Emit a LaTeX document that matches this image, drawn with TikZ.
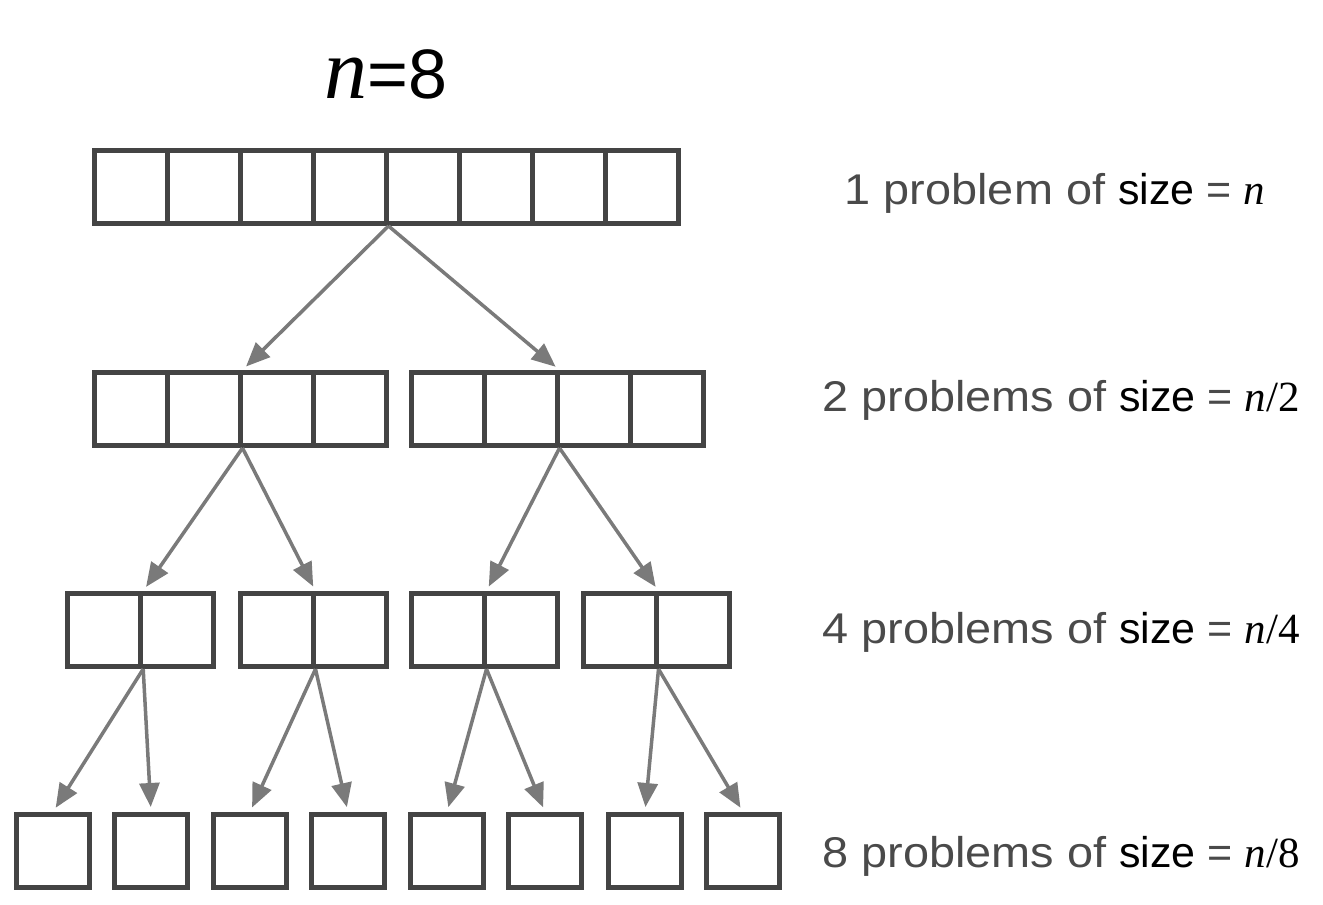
\documentclass[tikz,border=0pt]{standalone}
\usepackage{fontspec}
\setmainfont{Liberation Sans}
\newfontfamily\widesans[FakeStretch=1.09]{Liberation Sans}
\newfontfamily\seriffont{Liberation Serif}
\usetikzlibrary{arrows.meta}

\definecolor{ccbox}{RGB}{68,68,68}
\definecolor{ccarrow}{RGB}{122,122,122}
\definecolor{cctext}{RGB}{74,74,74}

\tikzset{
  cell/.style={draw=ccbox, line width=5pt, minimum width=73pt, minimum height=73pt, inner sep=0pt},
  split/.style={draw=ccarrow, line width=3.5pt, -{Triangle[length=24pt, width=20pt]}, shorten >=5pt},
  legend/.style={anchor=base, inner sep=0pt, font=\fontsize{43}{50}\selectfont},
}
\newcommand{\nsym}{{\seriffont\itshape n}}
\newcommand{\sizeis}[2]{{\widesans\color{cctext}#1 of }{\color{black}size}{\color{cctext}\ = }{\color{black}\seriffont#2}}

\begin{document}
\begin{tikzpicture}[x=1pt, y=-1pt]

  % Bounding box of the scheme
  \useasboundingbox (0,0) rectangle (1323,905) ;

  %%%%%%%%%%%%%%%%%%%%%%%%%%%%%%%%% Cells of the problems %%%%%%%%%%%%%%%%%%%%%%%%%%%%%%%%%%%%

  % Size n
  \foreach \i in {1,...,8}
    \draw ({57.5+73*\i},187) node[cell] (t\i) {} ;

  % Size n/2
  \foreach \i in {1,...,4} {
    \draw ({57.5+73*\i},409) node[cell] (a\i) {} ;
    \draw ({374.5+73*\i},409) node[cell] (b\i) {} ;
  }

  % Size n/4
  \foreach \x [count=\j from 1] in {140.7,313,484,656} {
    \pgfmathtruncatemacro{\k}{2*\j}
    \pgfmathtruncatemacro{\h}{2*\j-1}
    \draw ({\x-36.5},630) node[cell] (c\h) {} ;
    \draw ({\x+36.5},630) node[cell] (c\k) {} ;
  }

  % Size n/8
  \foreach \x [count=\i from 1] in {53,151,250,348,447,545,645,743}
    \draw (\x,851) node[cell] (d\i) {} ;

  %%%%%%%%%%%%%%%%%%%%%%%%%%%%%%%%% Splits %%%%%%%%%%%%%%%%%%%%%%%%%%%%%%%%%%%%

  \draw[split] (t4.south east) -- (a2.north east) ;
  \draw[split] (t4.south east) -- (b2.north east) ;

  \draw[split] (a2.south east) -- (c1.north east) ;
  \draw[split] (a2.south east) -- (c3.north east) ;
  \draw[split] (b2.south east) -- (c5.north east) ;
  \draw[split] (b2.south east) -- (c7.north east) ;

  \draw[split] (c1.south east) -- (d1.north) ;
  \draw[split] (c1.south east) -- (d2.north) ;
  \draw[split] (c3.south east) -- (d3.north) ;
  \draw[split] (c3.south east) -- (d4.north) ;
  \draw[split] (c5.south east) -- (d5.north) ;
  \draw[split] (c5.south east) -- (d6.north) ;
  \draw[split] (c7.south east) -- (d7.north) ;
  \draw[split] (c7.south east) -- (d8.north) ;

  %%%%%%%%%%%%%%%%%%%%%%%%%%%%%%%%% Labels %%%%%%%%%%%%%%%%%%%%%%%%%%%%%%%%%%%%

  \draw (386,98) node[anchor=base, inner sep=0pt] (title)
    {{\fontsize{86}{96}\selectfont\nsym}{\fontsize{70}{80}\selectfont=8}} ;

  \draw (1055,204) node[legend] (l1) {\sizeis{1 problem}{\nsym}} ;
  \draw (1061,411) node[legend] (l2) {\sizeis{2 problems}{\nsym/2}} ;
  \draw (1061,643) node[legend] (l4) {\sizeis{4 problems}{\nsym/4}} ;
  \draw (1061,867) node[legend] (l8) {\sizeis{8 problems}{\nsym/8}} ;

\end{tikzpicture}
\end{document}
